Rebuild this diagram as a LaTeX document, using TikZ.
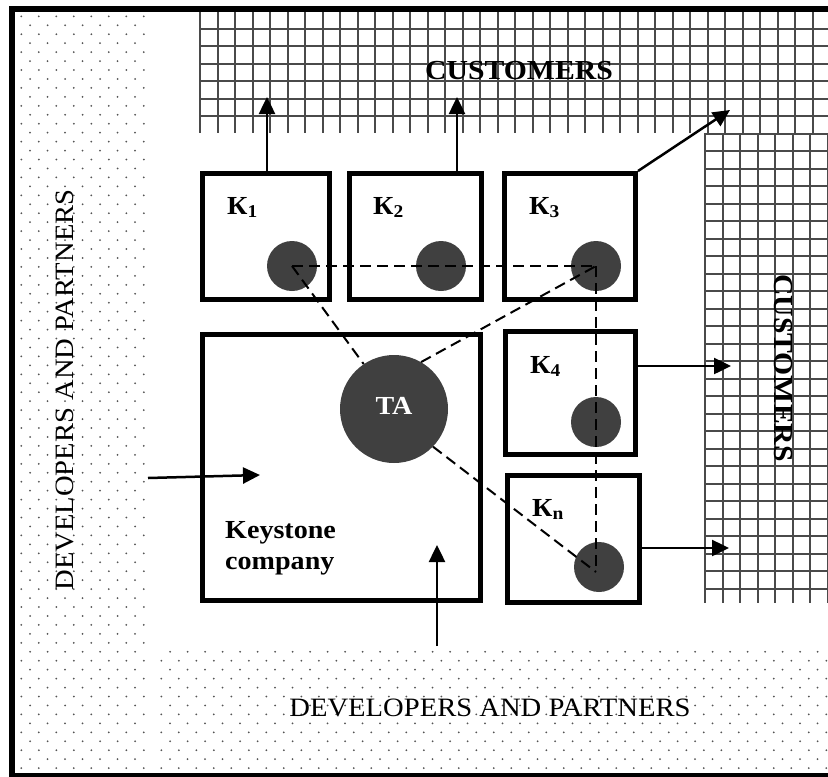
\documentclass[tikz,border=0pt]{standalone}
\usepackage{fontspec}
\setmainfont{Liberation Serif}[FakeStretch=1.08]
\usetikzlibrary{arrows.meta}
\definecolor{ballgrey}{HTML}{404040}
\definecolor{gridgrey}{HTML}{4A4A4A}
\definecolor{dotgrey}{HTML}{555555}
\begin{document}
\begin{tikzpicture}[x=1pt,y=-1pt,
  kbox/.style={draw=black, line width=5pt, rectangle, inner sep=0pt, fill=white},
  ball/.style={circle, fill=ballgrey, draw=none, inner sep=0pt, minimum size=50pt},
  link/.style={line width=2pt, dash pattern=on 11pt off 6pt},
  arr/.style={line width=2.5pt, -{Triangle[length=17pt,width=16pt]}},
  gridline/.style={draw=gridgrey, line width=2pt},
  big/.style={font=\fontsize{26.5}{30}\selectfont, inner sep=0pt},
  bigb/.style={font=\fontsize{27.5}{30}\selectfont\bfseries, inner sep=0pt},
  klab/.style={font=\fontsize{26}{28}\selectfont\bfseries, inner sep=0pt, anchor=base west},
  kcomp/.style={font=\fontsize{26}{28}\selectfont\bfseries, inner sep=0pt, anchor=base west}
]
\useasboundingbox (0,0) rectangle (828,777);
\fill[white] (0,0) rectangle (828,777);

% dotted areas (developers and partners)
\foreach \r in {0,...,84}{
  \pgfmathsetmacro\yy{16.3+8.95*\r}
  \pgfmathsetmacro\sh{mod(\r,2)*8.75}
  \foreach \j in {0,...,7}{
    \pgfmathsetmacro\xx{21.3+\sh+17.5*\j}
    \ifdim\xx pt<146pt\relax \fill[dotgrey] (\xx,\yy) circle (1pt);\fi
  }
}
\foreach \r in {71,...,84}{
  \pgfmathsetmacro\yy{16.3+8.95*\r}
  \pgfmathsetmacro\sh{mod(\r,2)*8.75}
  \foreach \j in {8,...,46}{
    \pgfmathsetmacro\xx{21.3+\sh+17.5*\j}
    \ifdim\xx pt<827pt\relax \fill[dotgrey] (\xx,\yy) circle (1pt);\fi
  }
}

% grids (customers)
\foreach \i in {0,...,35}{
  \draw[gridline] ({200+17.5*\i},10) -- ({200+17.5*\i},133);
}
\foreach \k in {1,...,6}{
  \draw[gridline] (200,{11+17.5*\k}) -- (828,{11+17.5*\k});
}
\foreach \i in {0,...,7}{
  \draw[gridline] ({705+17.5*\i},133) -- ({705+17.5*\i},603);
}
\foreach \k in {0,...,26}{
  \draw[gridline] (705,{133.5+17.5*\k}) -- (828,{133.5+17.5*\k});
}

% outer frame
\draw[line width=5.5pt] (828,9) -- (12,9) -- (12,775.5) -- (828,775.5);

% boxes
\node[kbox, minimum width=127pt, minimum height=126pt] (k1) at (266,236.5) {};
\node[kbox, minimum width=132pt, minimum height=126pt] (k2) at (415.5,236.5) {};
\node[kbox, minimum width=131pt, minimum height=126pt] (k3) at (570,236.5) {};
\node[kbox, minimum width=278pt, minimum height=266pt] (key) at (341.5,467.5) {};
\node[kbox, minimum width=130pt, minimum height=123pt] (k4) at (570.5,393) {};
\node[kbox, minimum width=132pt, minimum height=127pt] (kn) at (573.5,539) {};

% circles
\node[ball] (c1) at (292,266) {};
\node[ball] (c2) at (441,266) {};
\node[ball] (c3) at (596,266) {};
\node[ball] (c4) at (596,422) {};
\node[ball] (cn) at (599,567) {};
\node[ball, minimum size=108pt, text=white, font=\fontsize{26}{28}\selectfont\bfseries] (ta) at (394,409) {\raisebox{6pt}{TA}};

% dashed links
\coordinate (vend) at (596,572);
\draw[link] (c1.center) -- (c3.center);
\draw[link] (c3.center) -- (vend);
\draw[link] (c1.center) -- (ta.124);
\draw[link] (ta.60) -- (c3.center);
\draw[link] (ta.-44) -- (vend);

% arrows
\coordinate (t1) at (267,97);
\coordinate (t2) at (457,97);
\coordinate (t3) at (730,110);
\coordinate (t4) at (731,366);
\coordinate (tn) at (729,548);
\coordinate (s5) at (148,478);
\coordinate (t5) at (260,475);
\coordinate (s6) at (437,646);
\coordinate (t6) at (437,545);
\draw[arr] (k1.north -| t1) -- (t1);
\draw[arr] (k2.north -| t2) -- (t2);
\draw[arr] (k3.north east) -- (t3);
\draw[arr] (k4.east |- t4) -- (t4);
\draw[arr] (kn.east |- tn) -- (tn);
\draw[arr] (s5) -- (t5);
\draw[arr] (s6) -- (t6);

% labels
\node[klab] (l1) at (227,214) {К\raisebox{-3.5pt}{\fontsize{18}{18}\selectfont 1}};
\node[klab] (l2) at (373,214) {К\raisebox{-3.5pt}{\fontsize{18}{18}\selectfont 2}};
\node[klab] (l3) at (529,214) {К\raisebox{-3.5pt}{\fontsize{18}{18}\selectfont 3}};
\node[klab] (l4) at (530,373) {К\raisebox{-3.5pt}{\fontsize{18}{18}\selectfont 4}};
\node[klab] (l5) at (532,516) {К\raisebox{-3.5pt}{\fontsize{18}{18}\selectfont n}};
\node[kcomp] (kc1) at (225,538) {Keystone};
\node[kcomp] (kc2) at (225,569) {company};

\node[bigb] (cust1) at (519,71) {CUSTOMERS};
\node[bigb, rotate=-90] (cust2) at (783,368) {CUSTOMERS};
\node[big, rotate=90] (dev1) at (65,390) {DEVELOPERS AND PARTNERS};
\node[big] (dev2) at (490,708) {DEVELOPERS AND PARTNERS};
\end{tikzpicture}
\end{document}
